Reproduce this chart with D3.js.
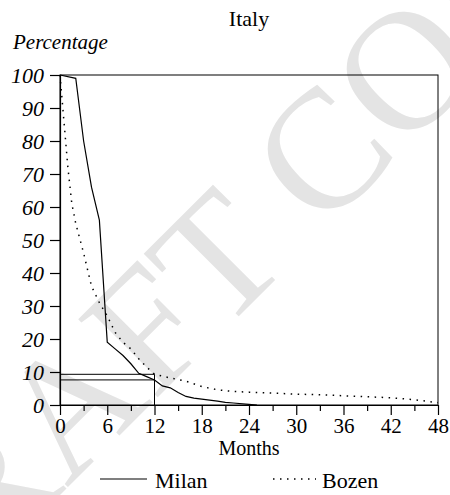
<!DOCTYPE html>
<html>
<head>
<meta charset="utf-8">
<script src="https://cdn.jsdelivr.net/npm/d3@7/dist/d3.min.js"></script>
<style>
  body { margin: 0; background: #fff; }
  svg text { font-family: 'Liberation Serif', 'Times New Roman', Times, serif; fill: #000; }
</style>
</head>
<body>
<script>
// data (months since start, percentage still waiting)
var milanMonths = [0, 2, 3, 4, 5, 6, 7, 8, 9, 10, 11, 12, 13, 14, 15, 16, 17, 18, 20, 21, 22, 24, 25];
var milanValues = [100, 99, 80, 66, 56, 19, 17, 15, 12.5, 9.6, 8.6, 7.6, 5.8, 5.2, 3.8, 2.6, 2.1, 1.8, 1.2, 0.8, 0.6, 0.2, 0];

var bozenMonths = [0, 0.5, 1, 1.5, 2, 3, 4, 5, 6, 7, 8, 9, 10, 11, 12, 14, 16, 18, 20, 22, 24, 27, 30, 33, 36, 39, 42, 45, 48];
var bozenValues = [100, 86, 72, 61, 55, 46, 36, 31, 27, 22, 19, 17, 14, 11.5, 9.3, 8.2, 7.2, 5.6, 4.6, 4.1, 3.9, 3.6, 3.3, 3.1, 2.8, 2.5, 2.2, 1.6, 0.7];

var xTicks = [0, 6, 12, 18, 24, 30, 36, 42, 48];
var xMinorTicks = [3, 9, 15, 21, 27, 33, 39, 45];
var yTicks = [0, 10, 20, 30, 40, 50, 60, 70, 80, 90, 100];
var refMonth = 12;

var width = 450, height = 495;
var plot = { left: 60, right: 438, top: 75, bottom: 405 };

var svg = d3.select("body").append("svg")
  .attr("width", width)
  .attr("height", height);

// faint watermark sitting behind the chart
svg.append("text")
  .attr("transform", "translate(271,284) rotate(-45)")
  .attr("text-anchor", "middle")
  .style("font-size", "170px")
  .style("fill", "#e4e4e4")
  .text("DRAFT COPY");

var x = d3.scaleLinear().domain([0, 48]).range([plot.left, plot.right]);
var y = d3.scaleLinear().domain([0, 100]).range([plot.bottom, plot.top]);

// title + y label
svg.append("text")
  .attr("x", (plot.left + plot.right) / 2)
  .attr("y", 26)
  .attr("text-anchor", "middle")
  .style("font-size", "22px")
  .text("Italy");

svg.append("text")
  .attr("x", 13)
  .attr("y", 49)
  .style("font-size", "21px")
  .style("font-style", "italic")
  .text("Percentage");

// frame (top and right sides)
svg.append("rect")
  .attr("x", plot.left)
  .attr("y", plot.top)
  .attr("width", plot.right - plot.left)
  .attr("height", plot.bottom - plot.top)
  .attr("fill", "none")
  .attr("stroke", "#000")
  .attr("stroke-width", 1);

// axes
var yAxis = d3.axisLeft(y).tickValues(yTicks).tickSize(10).tickSizeOuter(0).tickPadding(6);
var gy = svg.append("g")
  .attr("transform", "translate(" + plot.left + ",0)")
  .call(yAxis);
gy.selectAll("text")
  .style("font-size", "22px")
  .style("font-style", "italic");

var xAxis = d3.axisBottom(x).tickValues(xTicks).tickSize(10).tickSizeOuter(0).tickPadding(3);
var gx = svg.append("g")
  .attr("transform", "translate(0," + plot.bottom + ")")
  .call(xAxis);
gx.selectAll("text")
  .style("font-size", "21px");

var xMinor = d3.axisBottom(x).tickValues(xMinorTicks).tickSize(6).tickSizeOuter(0).tickFormat("");
svg.append("g")
  .attr("transform", "translate(0," + plot.bottom + ")")
  .call(xMinor)
  .select(".domain").remove();

svg.selectAll(".domain, .tick line").attr("stroke", "#000").attr("stroke-width", 1.2);

svg.append("text")
  .attr("x", (plot.left + plot.right) / 2)
  .attr("y", 455)
  .attr("text-anchor", "middle")
  .style("font-size", "20px")
  .text("Months");

// reference lines at 12 months
var milanRef = milanValues[milanMonths.indexOf(refMonth)];
var bozenRef = bozenValues[bozenMonths.indexOf(refMonth)];
var refs = svg.append("g").attr("stroke", "#000").attr("stroke-width", 1);
[milanRef, bozenRef].forEach(function (v) {
  refs.append("line")
    .attr("x1", x(0)).attr("x2", x(refMonth))
    .attr("y1", y(v)).attr("y2", y(v));
});
refs.append("line")
  .attr("x1", x(refMonth)).attr("x2", x(refMonth))
  .attr("y1", y(0)).attr("y2", y(bozenRef));

// series
var line = d3.line()
  .x(function (d) { return x(d[0]); })
  .y(function (d) { return y(d[1]); });

svg.append("path")
  .datum(d3.zip(milanMonths, milanValues))
  .attr("fill", "none")
  .attr("stroke", "#000")
  .attr("stroke-width", 1.2)
  .attr("d", line);

svg.append("path")
  .datum(d3.zip(bozenMonths, bozenValues))
  .attr("fill", "none")
  .attr("stroke", "#000")
  .attr("stroke-width", 1.5)
  .attr("stroke-dasharray", "1.5,5.5")
  .attr("d", line);

// legend
var legend = svg.append("g");
legend.append("line")
  .attr("x1", 100).attr("x2", 147).attr("y1", 479).attr("y2", 479)
  .attr("stroke", "#000").attr("stroke-width", 1.2);
legend.append("text")
  .attr("x", 155).attr("y", 488)
  .style("font-size", "22px")
  .text("Milan");
legend.append("line")
  .attr("x1", 273).attr("x2", 316).attr("y1", 479).attr("y2", 479)
  .attr("stroke", "#000").attr("stroke-width", 1.5)
  .attr("stroke-dasharray", "1.5,5.5");
legend.append("text")
  .attr("x", 322).attr("y", 488)
  .style("font-size", "22px")
  .text("Bozen");
</script>
</body>
</html>
